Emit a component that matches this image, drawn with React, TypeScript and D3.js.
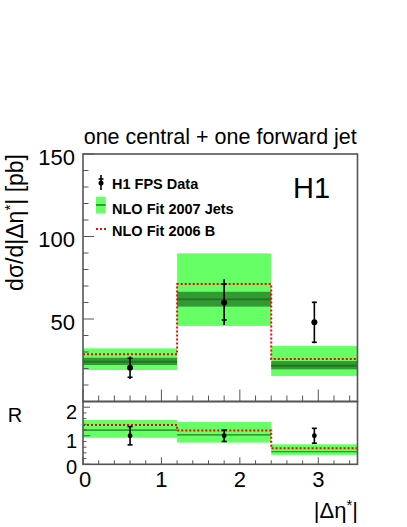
import React from "react";
import * as d3 from "d3";

// ---- data ----
const binEdges = [0, 1.2, 2.4, 3.5];
const dataX = [0.6, 1.8, 2.95];
const dataY = [20.5, 60.0, 48.0];
const dataStatHi = [26.2, 71.2, 60.1];
const dataStatLo = [14.7, 49.4, 35.9];
const dataTotHi = [27.3, 74.1, 60.5];
const dataTotLo = [13.6, 46.4, 35.3];

const nlo07Central = [24.1, 62.0, 21.7];
const nlo07InnerHi = [26.5, 66.5, 24.5];
const nlo07InnerLo = [22.1, 57.5, 19.5];
const nlo07OuterHi = [32.2, 89.8, 33.6];
const nlo07OuterLo = [19.1, 45.8, 15.5];
const nlo06 = [28.6, 71.2, 25.8];

const ratioData = [1.0, 1.0, 1.0];
const ratioErr = [0.32, 0.2, 0.26];
const ratio07Central = [1.2, 1.03, 0.44];
const ratio07Hi = [1.55, 1.48, 0.7];
const ratio07Lo = [0.93, 0.76, 0.33];
const ratio06 = [1.38, 1.18, 0.56];

const upperTicks = [50, 100, 150];
const lowerTicks = [0, 1, 2];
const xTicks = [0, 1, 2, 3];

const legendLabels = ["H1 FPS Data", "NLO Fit 2007 Jets", "NLO Fit 2006 B"];

const LIGHT = "#66ff66";
const DARK = "#339933";
const LINE = "#1f7a1f";
const RED = "#ff0000";
const FRAME = "#555";
const FONT = "'Liberation Sans', Arial, Helvetica, sans-serif";

export default function App() {
  const L = 83, R = 357.5;
  const uTop = 154, uBot = 401.5;
  const lTop = 401.5, lBot = 464.3;

  const x = d3.scaleLinear().domain([0, 3.5]).range([L, R]);
  const yU = d3.scaleLinear().domain([0, 150]).range([uBot, uTop]);
  const yL = d3.scaleLinear().domain([0, 2.2]).range([lBot, lTop]);

  const bins = binEdges.slice(0, -1).map((e, i) => [e, binEdges[i + 1]]);

  const stepPath = (vals: number[], y: d3.ScaleLinear<number, number>) => {
    const pts: [number, number][] = [];
    bins.forEach(([a, b], i) => {
      pts.push([x(a), y(vals[i])]);
      pts.push([x(b), y(vals[i])]);
    });
    return d3.line()(pts) || "";
  };

  const xMinor = d3.range(0, 3.5001, 0.2);
  const yUMinor = d3.range(0, 150.001, 10);
  const yLMinor = d3.range(0, 2.2001, 0.2);

  const isInt = (v: number) => Math.abs(v - Math.round(v)) < 1e-6;

  return (
    <svg width={407} height={527} style={{ position: "absolute", left: 0, top: 0, fontFamily: FONT }}>
      <rect x={0} y={0} width={407} height={527} fill="#fff" />
      {/* Title */}
      <text x={(L + R) / 2} y={144} textAnchor="middle" fontSize={21.5}>one central + one forward jet</text>

      {/* ---------- upper panel ---------- */}
      {bins.map(([a, b], i) => (
        <rect key={"lo" + i} x={x(a)} y={yU(nlo07OuterHi[i])} width={x(b) - x(a)}
          height={yU(nlo07OuterLo[i]) - yU(nlo07OuterHi[i])} fill={LIGHT} />
      ))}
      {bins.map(([a, b], i) => (
        <rect key={"li" + i} x={x(a)} y={yU(nlo07InnerHi[i])} width={x(b) - x(a)}
          height={yU(nlo07InnerLo[i]) - yU(nlo07InnerHi[i])} fill={DARK} />
      ))}
      {bins.map(([a, b], i) => (
        <line key={"lc" + i} x1={x(a)} x2={x(b)} y1={yU(nlo07Central[i])} y2={yU(nlo07Central[i])}
          stroke={LINE} strokeWidth={2} />
      ))}
      <path d={stepPath(nlo06, yU)} fill="none" stroke={RED} strokeWidth={2} strokeDasharray="2,2" />
      {dataX.map((dx, i) => (
        <g key={"d" + i} stroke="#000" strokeWidth={1.6}>
          <line x1={x(dx)} x2={x(dx)} y1={yU(dataTotHi[i])} y2={yU(dataTotLo[i])} />
          <line x1={x(dx) - 2.5} x2={x(dx) + 2.5} y1={yU(dataStatHi[i])} y2={yU(dataStatHi[i])} />
          <line x1={x(dx) - 2.5} x2={x(dx) + 2.5} y1={yU(dataStatLo[i])} y2={yU(dataStatLo[i])} />
          <circle cx={x(dx)} cy={yU(dataY[i])} r={3} fill="#000" stroke="none" />
        </g>
      ))}

      {/* upper frame + ticks */}
      <rect x={L} y={uTop} width={R - L} height={uBot - uTop} fill="none" stroke={FRAME} strokeWidth={1.6} />
      {yUMinor.map((v) => {
        const maj = upperTicks.includes(v);
        return <line key={"yut" + v} x1={L} x2={L + (maj ? 11 : 5.5)} y1={yU(v)} y2={yU(v)} stroke={FRAME} strokeWidth={1} />;
      })}
      {xMinor.map((v) => {
        const maj = isInt(v);
        return <line key={"xut" + v.toFixed(1)} x1={x(v)} x2={x(v)} y1={uBot} y2={uBot - (maj ? 12 : 6)} stroke={FRAME} strokeWidth={1} />;
      })}
      {upperTicks.map((v) => (
        <text key={"yul" + v} x={75} y={yU(v) + 3} textAnchor="end" dominantBaseline="central" fontSize={22}>{v}</text>
      ))}

      {/* y title */}
      <text transform={`translate(23,154) rotate(-90)`} textAnchor="end" fontSize={23}>
        dσ/d|Δη<tspan dy={-8} fontSize={15}>*</tspan><tspan dy={8}>| [pb]</tspan>
      </text>

      {/* legend */}
      <g stroke="#000" strokeWidth={1.6}>
        <line x1={101} x2={101} y1={175} y2={190} />
        <line x1={98.5} x2={103.5} y1={179} y2={179} />
        <circle cx={101} cy={183} r={2.5} fill="#000" stroke="none" />
      </g>
      <rect x={96} y={196.7} width={9.7} height={16.6} fill={LIGHT} />
      <line x1={96} x2={105.7} y1={205} y2={205} stroke={LINE} strokeWidth={1.5} />
      <line x1={96} x2={106} y1={229} y2={229} stroke={RED} strokeWidth={2} strokeDasharray="2,2" />
      {legendLabels.map((t, i) => (
        <text key={t} x={112} y={[188.5, 213.5, 236][i]} fontSize={14.5} fontWeight="bold">{t}</text>
      ))}
      <text x={293} y={198} fontSize={29}>H1</text>

      {/* ---------- lower panel ---------- */}
      {bins.map(([a, b], i) => (
        <rect key={"rlo" + i} x={x(a)} y={yL(ratio07Hi[i])} width={x(b) - x(a)}
          height={yL(ratio07Lo[i]) - yL(ratio07Hi[i])} fill={LIGHT} />
      ))}
      {bins.map(([a, b], i) => (
        <line key={"rlc" + i} x1={x(a)} x2={x(b)} y1={yL(ratio07Central[i])} y2={yL(ratio07Central[i])}
          stroke={LINE} strokeWidth={1.2} />
      ))}
      <path d={stepPath(ratio06, yL)} fill="none" stroke={RED} strokeWidth={2} strokeDasharray="2,2" />
      {dataX.map((dx, i) => (
        <g key={"rd" + i} stroke="#000" strokeWidth={1.6}>
          <line x1={x(dx)} x2={x(dx)} y1={yL(ratioData[i] + ratioErr[i])} y2={yL(ratioData[i] - ratioErr[i])} />
          <line x1={x(dx) - 2.5} x2={x(dx) + 2.5} y1={yL(ratioData[i] + ratioErr[i])} y2={yL(ratioData[i] + ratioErr[i])} />
          <line x1={x(dx) - 2.5} x2={x(dx) + 2.5} y1={yL(ratioData[i] - ratioErr[i])} y2={yL(ratioData[i] - ratioErr[i])} />
          <circle cx={x(dx)} cy={yL(ratioData[i])} r={2.4} fill="#000" stroke="none" />
        </g>
      ))}
      <rect x={L} y={lTop} width={R - L} height={lBot - lTop} fill="none" stroke={FRAME} strokeWidth={1.6} />
      {yLMinor.map((v) => {
        const maj = isInt(v);
        return <line key={"ylt" + v.toFixed(1)} x1={L} x2={L + (maj ? 7 : 3.5)} y1={yL(v)} y2={yL(v)} stroke={FRAME} strokeWidth={1} />;
      })}
      {xMinor.map((v) => {
        const maj = isInt(v);
        return <line key={"xlt" + v.toFixed(1)} x1={x(v)} x2={x(v)} y1={lBot} y2={lBot - (maj ? 7 : 4)} stroke={FRAME} strokeWidth={1} />;
      })}
      {lowerTicks.map((v) => (
        <text key={"yll" + v} x={77} y={yL(v) + (v === 0 ? 3 : 5)} textAnchor="end" dominantBaseline="central" fontSize={20}>{v}</text>
      ))}
      <text x={15} y={415} textAnchor="middle" dominantBaseline="central" fontSize={20}>R</text>

      {xTicks.map((v) => (
        <text key={"xl" + v} x={x(v) + (v === 0 ? 2 : 0)} y={487} textAnchor="middle" fontSize={22}>{v}</text>
      ))}
      <text x={358} y={518} textAnchor="end" fontSize={22}>
        |Δη<tspan dy={-8} fontSize={15}>*</tspan><tspan dy={8}>|</tspan>
      </text>
    </svg>
  );
}
